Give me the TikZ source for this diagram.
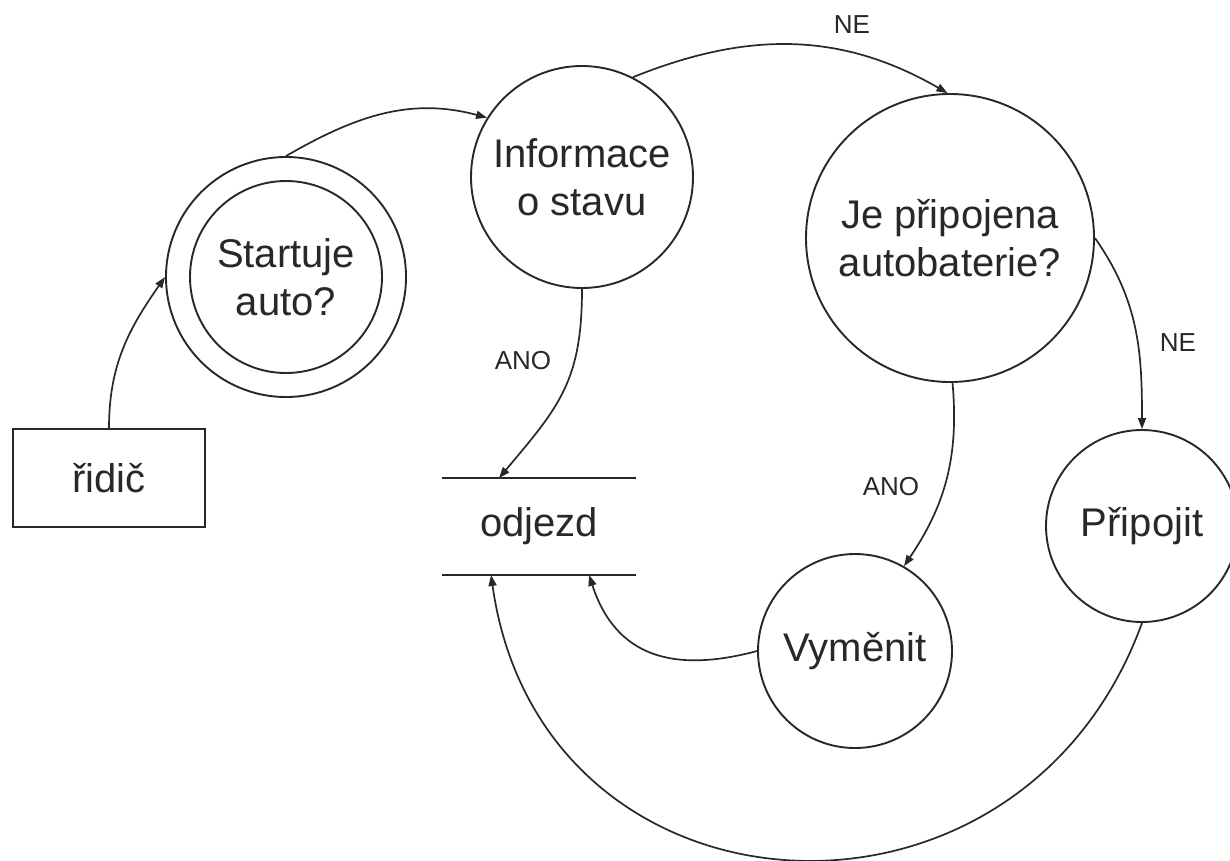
\documentclass[tikz,border=0pt]{standalone}
\usepackage{fontspec}
\setmainfont{Liberation Sans}
\usetikzlibrary{arrows.meta}
\definecolor{ink}{RGB}{40,40,40}
\begin{document}
\begin{tikzpicture}[x=1pt,y=1pt,
  color=ink, line width=1.9pt,
  proc/.style={circle, draw, inner sep=0pt, align=center,
    font=\fontsize{40}{48}\selectfont},
  term/.style={rectangle, draw, minimum width=192pt, minimum height=98pt,
    inner sep=0pt, font=\fontsize{40}{48}\selectfont},
  store/.style={minimum width=192pt, minimum height=95pt, inner sep=0pt,
    font=\fontsize{40}{48}\selectfont},
  storeline/.style={line width=2.5pt},
  flow/.style={-{Triangle[length=11pt,width=8pt]}, line width=1.7pt},
  lbl/.style={font=\fontsize{26}{30}\selectfont, inner sep=0pt},
]
\fill[white] (0,0) rectangle (1230,-860);
\useasboundingbox (0,0) rectangle (1230,-860);

% external entity
\node[term] (ridic) at (109,-478) {řidič};

% processes
\node[proc, minimum size=240pt] (start) at (286,-277) {};
\node[proc, minimum size=192pt] (startin) at (286,-277) {Startuje\\auto?};
\node[proc, minimum size=222pt] (info) at (582,-177) {Informace\\o stavu};
\node[proc, minimum size=288pt] (bat) at (950,-238) {Je připojena\\autobaterie?};
\node[proc, minimum size=192pt] (prip) at (1142,-526) {Připojit};
\node[proc, minimum size=194pt] (vym) at (855,-651) {Vyměnit};

% data store
\node[store] (odj) at (539,-526.5) {odjezd};
\draw[storeline] (odj.north west) -- (odj.north east);
\draw[storeline] (odj.south west) -- (odj.south east);

% flows
\draw[flow] (ridic.north) to[out=90,in=235] (start.west);
\draw[flow] (start.north) to[out=30,in=165] (info.148);
\draw[flow] (info.63) to[out=22,in=150] (bat.91);
\draw[flow] (info.270) to[out=270,in=50,looseness=1.15] ([xshift=57pt]odj.north west);
\draw[flow] (bat.east) to[out=-55,in=90] (prip.north);
\draw[flow] (bat.271) to[out=-85,in=56] (vym.60);
\draw[flow] (vym.west) to[out=195,in=-72,looseness=1.2] ([xshift=147pt]odj.south west);
\draw[flow] (prip.south) to[out=250,in=-82,looseness=1.41] ([xshift=49pt]odj.south west);

% flow labels
\node[lbl] (ne1) at (852,-25) {NE};
\node[lbl] (ano1) at (523,-361) {ANO};
\node[lbl] (ne2) at (1178,-343) {NE};
\node[lbl] (ano2) at (891,-487) {ANO};
\end{tikzpicture}
\end{document}
